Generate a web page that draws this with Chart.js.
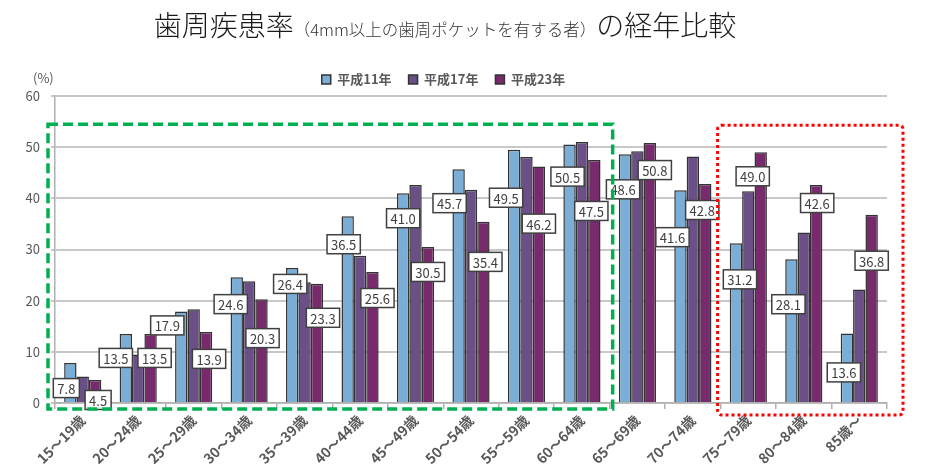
<!DOCTYPE html>
<html lang="ja">
<head>
<meta charset="utf-8">
<script src="https://cdn.jsdelivr.net/npm/chart.js@4.4.1/dist/chart.umd.min.js"></script>
<style>
  html, body { margin: 0; padding: 0; background: #fff; }
  #wrap { position: relative; width: 934px; height: 476px; overflow: hidden; }
  #chart { position: absolute; left: 0; top: 0; }
  #title {
    position: absolute; top: 6px; left: -22px; width: 934px;
    text-align: center; white-space: nowrap;
    font-family: "Noto Sans CJK JP", sans-serif; font-weight: 300;
    font-size: 28px; line-height: 36px; color: #1a1a1a;
  }
  #title small { font-size: 16.5px; color: #333; }
</style>
</head>
<body>
<div id="wrap">
  <canvas id="chart" width="934" height="476"></canvas>
  <div id="title">歯周疾患率<small>（4mm以上の歯周ポケットを有する者）</small>の経年比較</div>
</div>
<script>
const ageGroups = [
  "15～19歳", "20～24歳", "25～29歳", "30～34歳", "35～39歳",
  "40～44歳", "45～49歳", "50～54歳", "55～59歳", "60～64歳",
  "65～69歳", "70～74歳", "75～79歳", "80～84歳", "85歳～",
];
const seriesNames = ["平成11年", "平成17年", "平成23年"];
const h11 = [7.8, 13.5, 17.9, 24.6, 26.4, 36.5, 41.0, 45.7, 49.5, 50.5, 48.6, 41.6, 31.2, 28.1, 13.6];
const h17 = [5.2, 9.5, 18.3, 23.8, 23.6, 28.8, 42.6, 41.7, 48.1, 51.0, 49.2, 48.2, 41.4, 33.3, 22.2];
const h23 = [4.5, 13.5, 13.9, 20.3, 23.3, 25.6, 30.5, 35.4, 46.2, 47.5, 50.8, 42.8, 49.0, 42.6, 36.8];

// hand placed value boxes (offset from bar top, px)
const h11LabelDx = [-4, -10, -14, -6, -2, -4, 0, -9, -8, -2, -2, -8, 4, -3, -3];
const h11LabelDy = [25, 24, 14, 27, 16, 28, 25, 34, 48, 32, 35, 47, 36, 45, 39];
const h23LabelDx = [3, 4, 3, 1, 6, 5, 0, 2, 0, -3, 5, -3, -8, 1, 0];
const h23LabelDy = [20, 24, 27, 39, 34, 26, 25, 40, 57, 51, 27, 26, 24, 18, 46];

const FONT = '"Noto Sans CJK JP", "Noto Sans", sans-serif';
const GREY = "#595959";

const valueBoxes = {
  id: "valueBoxes",
  afterDatasetsDraw(chart) {
    const ctx = chart.ctx;
    const sets = [
      { idx: 0, dx: h11LabelDx, dy: h11LabelDy },
      { idx: 2, dx: h23LabelDx, dy: h23LabelDy },
    ];
    ctx.save();
    ctx.font = "13px " + FONT;
    ctx.textAlign = "center";
    ctx.textBaseline = "middle";
    sets.forEach((s) => {
      const meta = chart.getDatasetMeta(s.idx);
      const values = chart.data.datasets[s.idx].data;
      meta.data.forEach((bar, i) => {
        const text = values[i].toFixed(1);
        const cx = bar.x + s.dx[i];
        const cy = bar.y + s.dy[i];
        const w = ctx.measureText(text).width + 8;
        const h = 19;
        ctx.fillStyle = "#fff";
        ctx.fillRect(cx - w / 2, cy - h / 2, w, h);
        ctx.lineWidth = 1.5;
        ctx.strokeStyle = "#404040";
        ctx.strokeRect(cx - w / 2, cy - h / 2, w, h);
        ctx.fillStyle = "#404040";
        ctx.fillText(text, cx, cy + 1);
      });
    });
    ctx.restore();
  },
  afterDraw(chart) {
    const ctx = chart.ctx;
    const x = chart.scales.x;
    const y = chart.scales.y;
    const half = (x.getPixelForValue(1) - x.getPixelForValue(0)) / 2;
    const base = y.getPixelForValue(0);

    ctx.save();
    // unit label
    ctx.font = "13px " + FONT;
    ctx.fillStyle = GREY;
    ctx.textBaseline = "middle";
    ctx.fillText("(%)", 33, 78);

    // green dashed frame: 15～64歳
    ctx.strokeStyle = "#00b050";
    ctx.lineWidth = 3.5;
    ctx.setLineDash([10, 5]);
    const gL = chart.chartArea.left - 7;
    const gR = x.getPixelForValue(9) + half + 3;
    const gT = y.getPixelForValue(54.5);
    ctx.strokeRect(gL, gT, gR - gL, base + 6 - gT);

    // red dotted frame: 75歳～
    ctx.strokeStyle = "#ff0000";
    ctx.lineWidth = 3;
    ctx.setLineDash([3, 3]);
    const rL = x.getPixelForValue(12) - half - 3;
    const rR = chart.chartArea.right + 16;
    const rT = y.getPixelForValue(54.3);
    ctx.beginPath();
    ctx.roundRect(rL, rT, rR - rL, base + 12 - rT, 4);
    ctx.stroke();
    ctx.restore();
  },
};

const barStyle = {
  borderColor: "#333",
  borderWidth: 1.5,
  categoryPercentage: 0.67,
  barPercentage: 1.0,
};

new Chart(document.getElementById("chart"), {
  type: "bar",
  data: {
    labels: ageGroups,
    datasets: [
      { label: seriesNames[0], data: h11, backgroundColor: "#7aaed6", ...barStyle },
      { label: seriesNames[1], data: h17, backgroundColor: "#6b5087", ...barStyle },
      { label: seriesNames[2], data: h23, backgroundColor: "#772a6c", ...barStyle },
    ],
  },
  options: {
    responsive: false,
    animation: false,
    layout: { padding: { top: 56, right: 47, left: 0, bottom: 0 } },
    plugins: {
      legend: {
        position: "top",
        labels: {
          boxWidth: 9,
          boxHeight: 9,
          padding: 17,
          color: GREY,
          font: { family: FONT, size: 13, weight: "bold" },
        },
      },
      tooltip: { enabled: false },
    },
    scales: {
      x: {
        grid: {
          drawOnChartArea: false,
          drawTicks: true,
          tickLength: 6,
          color: "#b0b0b0",
          lineWidth: 1.5,
        },
        border: { color: "#b0b0b0", width: 1.5 },
        ticks: {
          minRotation: 45,
          maxRotation: 45,
          color: GREY,
          padding: 3,
          font: { family: FONT, size: 14, weight: "bold" },
        },
        afterFit(scale) {
          scale.height = 73;
        },
      },
      y: {
        min: 0,
        max: 60,
        ticks: {
          stepSize: 10,
          color: GREY,
          padding: 11,
          font: { family: FONT, size: 13 },
        },
        grid: { color: "#c8c8c8", lineWidth: 2, tickLength: 4 },
        border: { color: "#b0b0b0", width: 1.5 },
        afterFit(scale) {
          scale.width = 55;
        },
      },
    },
  },
  plugins: [valueBoxes],
});
</script>
</body>
</html>
